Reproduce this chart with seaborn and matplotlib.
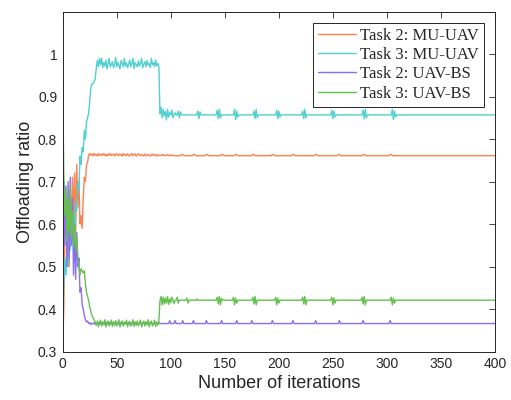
import matplotlib
matplotlib.use("Agg")
import matplotlib.pyplot as plt
import seaborn as sns
import numpy as np
import pandas as pd

N_ITER = 401
labels = ["Task 2: MU-UAV", "Task 3: MU-UAV", "Task 2: UAV-BS", "Task 3: UAV-BS"]
colors = ["#FF8050", "#50D0D0", "#8870F0", "#66C050"]

# ---- Task 2: MU-UAV (orange) ----
orange_head = [0.31, 0.40, 0.56, 0.66, 0.52, 0.62, 0.50, 0.68, 0.56, 0.71,
               0.60, 0.72, 0.58, 0.74, 0.64, 0.70, 0.60, 0.62, 0.59, 0.66,
               0.71, 0.70, 0.74, 0.745, 0.762, 0.766, 0.762, 0.765, 0.761, 0.766,
               0.762, 0.764, 0.760, 0.766, 0.763, 0.761, 0.765, 0.762, 0.766, 0.761,
               0.764, 0.760, 0.765, 0.762, 0.766, 0.761, 0.763, 0.765, 0.760, 0.764,
               0.766, 0.762, 0.761, 0.765, 0.763, 0.760, 0.766, 0.762, 0.764, 0.761,
               0.765, 0.762, 0.760, 0.764, 0.766, 0.761, 0.763, 0.765, 0.760, 0.763,
               0.766, 0.762, 0.761, 0.764, 0.762, 0.760, 0.765, 0.762, 0.761, 0.764,
               0.762, 0.760, 0.763, 0.765, 0.761, 0.762, 0.764, 0.760, 0.762, 0.763,
               0.761, 0.762, 0.764, 0.761, 0.763, 0.761, 0.762, 0.764, 0.761, 0.762,
               0.761, 0.763, 0.761, 0.761, 0.761]
orange_level = 0.761
orange_bumps = {110: [0.764, 0.764], 121: [0.764, 0.764], 133: [0.764, 0.764],
                147: [0.764, 0.764], 160: [0.764, 0.764], 176: [0.764, 0.764],
                194: [0.764, 0.764], 213: [0.764, 0.764], 234: [0.764, 0.764],
                255: [0.764, 0.764], 278: [0.764, 0.764], 303: [0.764, 0.764]}

# ---- Task 3: MU-UAV (cyan) ----
cyan_head = [0.40, 0.45, 0.52, 0.48, 0.55, 0.50, 0.58, 0.54, 0.60, 0.56,
             0.62, 0.58, 0.65, 0.63, 0.70, 0.68, 0.76, 0.74, 0.78, 0.77,
             0.82, 0.80, 0.84, 0.85, 0.86, 0.89, 0.92, 0.93, 0.93, 0.935,
             0.94, 0.965, 0.985, 0.97, 0.99, 0.975, 0.99, 0.968, 0.98, 0.972,
             0.985, 0.965, 0.978, 0.99, 0.97, 0.976, 0.982, 0.968, 0.975, 0.992,
             0.97, 0.98, 0.974, 0.965, 0.985, 0.978, 0.97, 0.99, 0.972, 0.98,
             0.968, 0.976, 0.986, 0.97, 0.978, 0.99, 0.966, 0.98, 0.975, 0.97,
             0.984, 0.972, 0.978, 0.99, 0.968, 0.976, 0.982, 0.97, 0.985, 0.974,
             0.978, 0.968, 0.99, 0.975, 0.98, 0.97, 0.986, 0.972, 0.978, 0.97,
             0.86, 0.875, 0.85, 0.87, 0.855, 0.865, 0.845, 0.87, 0.852, 0.862,
             0.857, 0.868, 0.85, 0.857, 0.862]
cyan_level = 0.857
cyan_bursts = {107: [0.866, 0.85, 0.864, 0.857], 125: [0.866, 0.848, 0.864],
               143: [0.868, 0.848, 0.87, 0.85], 159: [0.87, 0.846, 0.866, 0.852],
               177: [0.866, 0.848, 0.87, 0.85], 198: [0.868, 0.848, 0.866, 0.852],
               222: [0.866, 0.848, 0.87, 0.85], 249: [0.868, 0.848, 0.866, 0.852],
               278: [0.868, 0.848, 0.87, 0.85], 305: [0.87, 0.846, 0.866, 0.852]}

# ---- Task 2: UAV-BS (purple) ----
purple_head = [0.45, 0.70, 0.55, 0.69, 0.50, 0.70, 0.52, 0.71, 0.55, 0.66,
               0.48, 0.60, 0.47, 0.58, 0.50, 0.52, 0.44, 0.45, 0.41, 0.40,
               0.385, 0.375, 0.37, 0.372, 0.366, 0.368, 0.364, 0.367, 0.365, 0.368,
               0.364, 0.367, 0.366, 0.369, 0.364, 0.366, 0.368, 0.365, 0.367, 0.364,
               0.369, 0.366, 0.365, 0.368, 0.364, 0.367, 0.366, 0.369, 0.365, 0.366,
               0.368, 0.364, 0.367, 0.365, 0.369, 0.366, 0.364, 0.368, 0.365, 0.367,
               0.366, 0.369, 0.364, 0.366, 0.368, 0.365, 0.367, 0.364, 0.369, 0.366,
               0.365, 0.368, 0.366, 0.364, 0.367, 0.369, 0.365, 0.366, 0.368, 0.364,
               0.367, 0.366, 0.369, 0.365, 0.364, 0.368, 0.366, 0.367, 0.365, 0.368,
               0.366, 0.366, 0.366, 0.366, 0.366, 0.366, 0.366, 0.366, 0.366, 0.373,
               0.366, 0.366, 0.366, 0.366, 0.373]
purple_level = 0.366
purple_spikes = {111: [0.373], 121: [0.373], 133: [0.373], 147: [0.373], 161: [0.373],
                 175: [0.373], 194: [0.373], 213: [0.373], 234: [0.373], 256: [0.373],
                 278: [0.373], 303: [0.373]}

# ---- Task 3: UAV-BS (green) ----
green_head = [0.93, 0.72, 0.62, 0.68, 0.56, 0.66, 0.58, 0.69, 0.57, 0.63,
              0.55, 0.60, 0.54, 0.57, 0.52, 0.50, 0.48, 0.495, 0.49, 0.485,
              0.49, 0.46, 0.44, 0.43, 0.42, 0.405, 0.395, 0.385, 0.38, 0.375,
              0.37, 0.362, 0.372, 0.358, 0.368, 0.374, 0.36, 0.37, 0.363, 0.375,
              0.358, 0.368, 0.372, 0.36, 0.366, 0.374, 0.359, 0.37, 0.362, 0.373,
              0.36, 0.368, 0.375, 0.358, 0.366, 0.372, 0.36, 0.37, 0.364, 0.374,
              0.358, 0.368, 0.371, 0.36, 0.366, 0.375, 0.359, 0.37, 0.362, 0.372,
              0.36, 0.368, 0.374, 0.358, 0.366, 0.372, 0.36, 0.37, 0.363, 0.375,
              0.358, 0.368, 0.372, 0.36, 0.366, 0.374, 0.359, 0.37, 0.362, 0.372,
              0.42, 0.43, 0.41, 0.428, 0.412, 0.426, 0.414, 0.43, 0.411, 0.424,
              0.415, 0.428, 0.421, 0.413, 0.421]
green_level = 0.421
green_bursts = {106: [0.428, 0.414, 0.421], 115: [0.426, 0.414], 124: [0.424],
                143: [0.428, 0.412, 0.43, 0.41, 0.425], 158: [0.428, 0.41, 0.426, 0.414],
                176: [0.428, 0.412, 0.43, 0.41], 197: [0.428, 0.41, 0.426, 0.414],
                222: [0.428, 0.412, 0.43, 0.41], 249: [0.428, 0.41, 0.426, 0.414],
                277: [0.428, 0.412, 0.43, 0.41], 304: [0.428, 0.41, 0.426, 0.414]}


def assemble(head, level, events):
    vals = list(head) + [level] * (N_ITER - len(head))
    for start, seq in events.items():
        for k, v in enumerate(seq):
            vals[start + k] = v
    return vals


series = [assemble(orange_head, orange_level, orange_bumps),
          assemble(cyan_head, cyan_level, cyan_bursts),
          assemble(purple_head, purple_level, purple_spikes),
          assemble(green_head, green_level, green_bursts)]

iters = np.arange(N_ITER)
df = pd.concat([pd.DataFrame({"iter": iters, "ratio": s, "series": lab})
                for s, lab in zip(series, labels)], ignore_index=True)

sns.set_theme(style="white")
plt.rcParams["font.family"] = ["Liberation Sans", "DejaVu Sans"]

fig = plt.figure(figsize=(5.11, 4.0), dpi=100)
ax = fig.add_axes([0.1227, 0.121, 0.8460, 0.850])

sns.lineplot(data=df, x="iter", y="ratio", hue="series", hue_order=labels,
             palette=colors, linewidth=1.0, ax=ax, legend=True)

ax.set_xlim(0, 400)
ax.set_ylim(0.3, 1.1)
ax.set_xticks(np.arange(0, 401, 50))
ax.set_yticks([0.3, 0.4, 0.5, 0.6, 0.7, 0.8, 0.9, 1.0])
ax.set_yticklabels(["0.3", "0.4", "0.5", "0.6", "0.7", "0.8", "0.9", "1"])
ax.set_xlabel("Number of iterations", fontsize=13, color="#262626", labelpad=3)
ax.set_ylabel("Offloading ratio", fontsize=13, color="#262626", labelpad=3)
ax.tick_params(direction="in", length=4, width=0.6, top=True, right=True,
               labelsize=10, colors="#262626", pad=4)
for sp in ax.spines.values():
    sp.set_color("#262626")
    sp.set_linewidth(0.7)

handles, _ = ax.get_legend_handles_labels()
leg = ax.legend(handles, labels, loc="upper right", bbox_to_anchor=(0.9746, 0.9676),
                borderaxespad=0, fancybox=False, framealpha=1, edgecolor="#262626",
                prop={"family": "Liberation Serif", "size": 12}, handlelength=2.3,
                labelspacing=0.2, borderpad=0.3, handletextpad=0.25)
leg.get_frame().set_linewidth(0.7)

fig.savefig("out.png", dpi=100)
